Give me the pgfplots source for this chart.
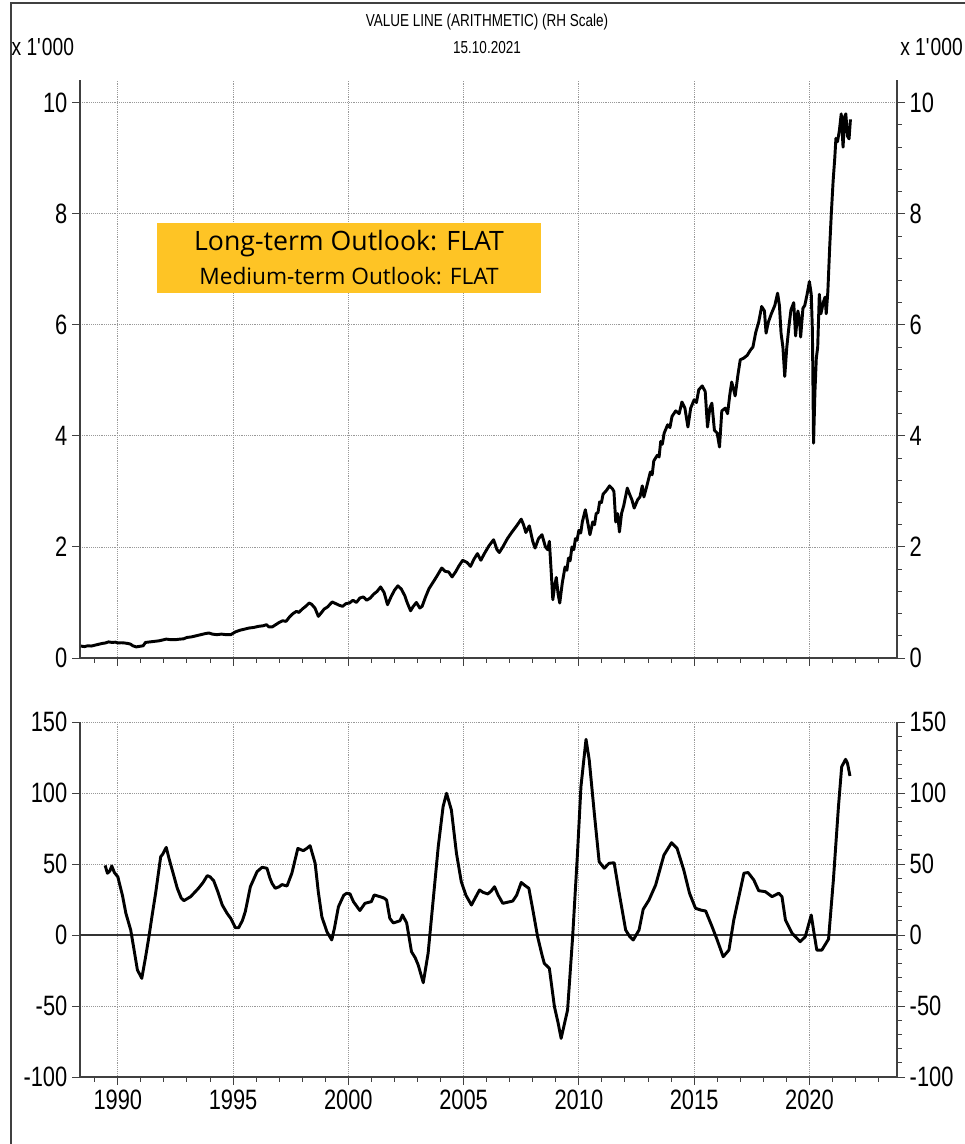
\documentclass[border=0pt]{standalone}
\usepackage{fontspec}
\setmainfont{Liberation Sans}[FakeStretch=0.78]
\newfontfamily\boxfont{Open Sans}
\usepackage{pgfplots}
\pgfplotsset{compat=1.18}
\definecolor{boxyellow}{HTML}{FEC425}
\newcommand\tickfont{\fontsize{21}{21}\selectfont}
\pgfplotsset{
  common/.style={
    anchor=south west, width=612.75pt, scale only axis,
    xmin=1988.36, xmax=2023.8,
    /pgf/number format/assume math mode=true,
    /pgf/number format/1000 sep={},
    tick align=outside,
    major tick length=6pt, minor tick length=3.5pt,
    every tick/.style={draw=black!75, line width=0.7pt},
    axis line style={draw=black!75, line width=0.8pt},
    ticklabel style={font=\tickfont},
  },
  leftax/.style={common,
    axis x line*=bottom, axis y line*=left,
    xtick={1990,1995,...,2020}, minor xtick={1989,...,2023},
    grid=major,
    major grid style={densely dotted, black!40, line width=0.6pt},
  },
  rightax/.style={common,
    axis x line=none, axis y line*=right,
    minor y tick num=4,
  },
}
\begin{document}
\begin{tikzpicture}
\useasboundingbox (0,0) rectangle (723pt,858pt);
% outer frame
\draw[black!75, line width=1.9pt] (8.25pt,0) -- (8.25pt,855.75pt) -- (730pt,855.75pt);
% titles
\node[font=\fontsize{13}{13}\selectfont] at (365.25pt,841.5pt) {VALUE LINE (ARITHMETIC) (RH Scale)};
\node[font=\fontsize{13}{13}\selectfont] at (365.25pt,822pt) {15.10.2021};
\node[font=\fontsize{18.5}{18.5}\selectfont, anchor=west, inner sep=0pt] at (8.5pt,822.75pt) {x 1\textquotesingle 000};
\node[font=\fontsize{18.5}{18.5}\selectfont, anchor=west, inner sep=0pt] at (675pt,822.75pt) {x 1\textquotesingle 000};

% ---------------- top panel ----------------
\begin{axis}[leftax, at={(60pt,364.5pt)}, height=433.5pt,
  ymin=0, ymax=10.41, ytick={0,2,...,10}, xticklabels={}]
\addplot[black, line width=2.2pt, line join=round] coordinates {
(1988.40,0.215)(1988.55,0.205)(1988.70,0.22)(1988.85,0.215)(1989.00,0.23)(1989.15,0.245)
(1989.30,0.26)(1989.45,0.27)(1989.60,0.29)(1989.75,0.28)(1989.90,0.285)(1990.00,0.27)
(1990.15,0.275)(1990.30,0.27)(1990.45,0.26)(1990.55,0.25)(1990.65,0.22)(1990.80,0.20)
(1990.95,0.21)(1991.10,0.22)(1991.20,0.28)(1991.40,0.29)(1991.60,0.30)(1991.80,0.31)
(1992.00,0.33)(1992.10,0.34)(1992.30,0.33)(1992.50,0.33)(1992.70,0.34)(1992.85,0.345)
(1993.00,0.37)(1993.20,0.38)(1993.40,0.40)(1993.60,0.42)(1993.80,0.44)(1993.95,0.45)
(1994.10,0.43)(1994.30,0.42)(1994.50,0.43)(1994.70,0.42)(1994.90,0.42)(1995.10,0.47)
(1995.30,0.50)(1995.50,0.52)(1995.70,0.54)(1995.90,0.55)(1996.10,0.57)(1996.30,0.58)
(1996.45,0.60)(1996.55,0.56)(1996.70,0.56)(1996.85,0.60)(1997.00,0.64)(1997.15,0.67)
(1997.30,0.66)(1997.45,0.74)(1997.60,0.80)(1997.75,0.84)(1997.85,0.82)(1998.00,0.88)
(1998.15,0.93)(1998.30,0.99)(1998.40,0.97)(1998.55,0.90)(1998.70,0.75)(1998.80,0.80)
(1998.95,0.88)(1999.10,0.92)(1999.30,1.01)(1999.45,0.98)(1999.60,0.95)(1999.75,0.93)
(1999.90,0.98)(2000.05,0.99)(2000.20,1.04)(2000.35,1.00)(2000.50,1.08)(2000.65,1.10)
(2000.80,1.04)(2000.95,1.08)(2001.10,1.15)(2001.25,1.20)(2001.40,1.28)(2001.55,1.18)
(2001.70,0.96)(2001.85,1.10)(2002.00,1.22)(2002.15,1.30)(2002.30,1.24)(2002.45,1.12)
(2002.55,1.00)(2002.70,0.85)(2002.80,0.92)(2002.95,1.00)(2003.10,0.90)(2003.20,0.93)
(2003.35,1.10)(2003.50,1.25)(2003.70,1.38)(2003.85,1.48)(2004.05,1.62)(2004.20,1.56)
(2004.35,1.55)(2004.50,1.46)(2004.65,1.55)(2004.80,1.66)(2004.96,1.76)(2005.15,1.72)
(2005.30,1.65)(2005.45,1.78)(2005.60,1.88)(2005.75,1.76)(2005.90,1.88)(2006.10,2.02)
(2006.30,2.13)(2006.45,1.95)(2006.55,1.90)(2006.70,2.00)(2006.90,2.15)(2007.10,2.27)
(2007.30,2.38)(2007.50,2.50)(2007.60,2.40)(2007.70,2.26)(2007.85,2.38)(2008.00,2.10)
(2008.10,1.98)(2008.25,2.15)(2008.40,2.22)(2008.55,2.00)(2008.65,1.95)(2008.72,2.10)
(2008.80,1.55)(2008.87,1.05)(2008.95,1.30)(2009.02,1.45)(2009.10,1.15)(2009.17,0.99)
(2009.28,1.35)(2009.40,1.64)(2009.48,1.58)(2009.55,1.80)(2009.62,1.75)(2009.70,2.00)
(2009.78,1.95)(2009.85,2.15)(2009.92,2.12)(2010.00,2.30)(2010.08,2.25)(2010.15,2.45)
(2010.28,2.67)(2010.38,2.45)(2010.48,2.22)(2010.55,2.35)(2010.60,2.45)(2010.68,2.40)
(2010.75,2.60)(2010.83,2.62)(2010.90,2.81)(2010.98,2.80)(2011.05,2.95)(2011.20,3.02)
(2011.33,3.10)(2011.45,3.05)(2011.52,3.00)(2011.60,2.45)(2011.68,2.60)(2011.76,2.27)
(2011.85,2.60)(2011.95,2.75)(2012.10,3.06)(2012.20,2.95)(2012.30,2.85)(2012.40,2.70)
(2012.55,2.85)(2012.65,2.90)(2012.75,3.10)(2012.82,2.90)(2012.95,3.10)(2013.10,3.35)
(2013.18,3.30)(2013.25,3.55)(2013.40,3.65)(2013.48,3.62)(2013.55,3.90)(2013.62,3.85)
(2013.70,4.05)(2013.85,4.20)(2013.95,4.15)(2014.04,4.35)(2014.20,4.45)(2014.35,4.40)
(2014.47,4.61)(2014.60,4.50)(2014.73,4.16)(2014.85,4.50)(2015.00,4.65)(2015.10,4.60)
(2015.20,4.83)(2015.35,4.90)(2015.48,4.80)(2015.58,4.16)(2015.68,4.50)(2015.77,4.59)
(2015.88,4.10)(2016.00,4.05)(2016.10,3.80)(2016.20,4.45)(2016.35,4.50)(2016.45,4.40)
(2016.55,4.75)(2016.63,4.97)(2016.78,4.72)(2016.90,5.10)(2017.00,5.37)(2017.15,5.40)
(2017.30,5.45)(2017.45,5.55)(2017.55,5.60)(2017.67,5.86)(2017.80,6.05)(2017.93,6.33)
(2018.05,6.25)(2018.12,5.85)(2018.22,6.05)(2018.35,6.20)(2018.50,6.35)(2018.62,6.57)
(2018.70,6.35)(2018.77,5.85)(2018.85,5.60)(2018.93,5.07)(2019.02,5.60)(2019.12,6.00)
(2019.20,6.27)(2019.32,6.40)(2019.40,5.80)(2019.50,6.25)(2019.57,6.10)(2019.62,5.78)
(2019.72,6.30)(2019.80,6.35)(2019.90,6.55)(2020.00,6.78)(2020.08,6.55)(2020.13,5.90)
(2020.18,3.87)(2020.24,4.80)(2020.30,5.40)(2020.36,5.60)(2020.43,6.55)(2020.50,6.20)
(2020.60,6.40)(2020.68,6.50)(2020.73,6.20)(2020.80,6.60)(2020.88,7.40)(2020.95,8.00)
(2021.03,8.60)(2021.10,9.00)(2021.15,9.36)(2021.22,9.30)(2021.30,9.50)(2021.38,9.80)
(2021.46,9.20)(2021.53,9.75)(2021.58,9.80)(2021.65,9.40)(2021.72,9.35)(2021.78,9.70)
};
\end{axis}
\begin{axis}[rightax, at={(60pt,364.5pt)}, height=433.5pt,
  ymin=0, ymax=10.41, ytick={0,2,...,10}]
\end{axis}

% ---------------- bottom panel ----------------
\begin{axis}[leftax, at={(60pt,50.25pt)}, height=266.25pt,
  ymin=-100, ymax=150, ytick={-100,-50,...,150}]
\draw[black!80, line width=0.8pt] (axis cs:1988.36,0) -- (axis cs:2023.8,0);
\addplot[black, line width=2.2pt, line join=round] coordinates {
(1989.45,49)(1989.55,43.5)(1989.65,45)(1989.74,48.6)(1989.85,44)(1990.00,41)
(1990.20,28)(1990.35,15.3)(1990.56,3.5)(1990.70,-10)(1990.85,-24.6)(1991.04,-30.5)
(1991.20,-16)(1991.35,-1.2)(1991.50,15)(1991.64,29.4)(1991.86,55.1)(1991.95,57)
(1992.10,61.7)(1992.22,54)(1992.36,45.8)(1992.58,32.9)(1992.75,26)(1992.87,24.2)
(1993.16,27)(1993.50,32.9)(1993.70,37)(1993.88,41.8)(1994.00,41)(1994.16,38.2)
(1994.35,30)(1994.53,21.1)(1994.75,15)(1994.90,11.7)(1995.10,5.1)(1995.24,5.1)
(1995.40,10)(1995.53,16.4)(1995.75,34)(1996.04,44.6)(1996.26,47.7)(1996.47,47)
(1996.60,40)(1996.69,36.4)(1996.83,32.9)(1997.00,34)(1997.12,35.5)(1997.34,34.5)
(1997.55,43.5)(1997.81,61)(1997.95,60)(1998.05,59.4)(1998.20,61)(1998.34,62.9)
(1998.56,50.5)(1998.70,30)(1998.85,12.9)(1999.07,2.3)(1999.28,-3.5)(1999.40,5)
(1999.57,19.9)(1999.80,28)(1999.93,29.4)(2000.07,29)(2000.22,23.5)(2000.50,17.2)
(2000.72,22.3)(2001.00,23.5)(2001.12,28.2)(2001.37,27)(2001.55,26)(2001.66,24.6)
(2001.80,11.7)(2001.95,8.5)(2002.24,10)(2002.35,14.1)(2002.53,8.5)(2002.74,-11.8)
(2002.90,-16)(2003.03,-21.1)(2003.25,-33.6)(2003.46,-12.9)(2003.68,24.6)(2003.90,62.2)
(2004.11,90.4)(2004.26,99.8)(2004.47,88)(2004.69,57.5)(2004.90,37.5)(2005.10,28)
(2005.34,21.1)(2005.50,26)(2005.69,31.7)(2005.85,30)(2006.05,28.9)(2006.20,31)
(2006.34,34)(2006.50,28)(2006.70,22.3)(2007.13,23.9)(2007.30,28)(2007.50,37)
(2007.65,35)(2007.83,32.9)(2008.00,18)(2008.21,-1.2)(2008.40,-14)(2008.50,-20)
(2008.72,-23.5)(2008.94,-50.5)(2009.10,-62)(2009.23,-72.8)(2009.51,-52.8)(2009.73,-1.2)
(2009.94,57.5)(2010.09,104.5)(2010.31,137.8)(2010.45,123.2)(2010.67,85.7)(2010.88,51.6)
(2011.10,47)(2011.31,50.5)(2011.53,50.9)(2011.75,29.4)(2012.03,3.5)(2012.20,-1)
(2012.36,-3.5)(2012.61,3.5)(2012.79,18.1)(2013.04,24.6)(2013.33,35.2)(2013.69,56.3)
(2014.02,65)(2014.26,61)(2014.55,45.8)(2014.80,29.4)(2015.06,18.8)(2015.30,17.5)
(2015.50,16.9)(2015.78,5.8)(2016.00,-3.5)(2016.26,-15.3)(2016.51,-10.6)(2016.72,10.6)
(2016.94,27)(2017.16,43.5)(2017.34,44)(2017.59,38.7)(2017.80,31.2)(2018.09,30.5)
(2018.38,27)(2018.67,29.4)(2018.81,27)(2018.96,10.6)(2019.25,1.2)(2019.60,-4.7)
(2019.82,-1.2)(2020.08,14.1)(2020.18,3.5)(2020.32,-10.6)(2020.54,-10.6)(2020.83,-2.9)
(2021.04,38.7)(2021.26,90.4)(2021.40,118.5)(2021.57,123.7)(2021.65,121)(2021.76,112)
};
\end{axis}
\begin{axis}[rightax, at={(60pt,50.25pt)}, height=266.25pt,
  ymin=-100, ymax=150, ytick={-100,-50,...,150}]
\end{axis}

% outlook box
\fill[boxyellow] (117.75pt,638.25pt) rectangle (405.75pt,690.75pt);
\node[font=\boxfont\fontsize{20}{20}\selectfont, inner sep=0pt] at (261.75pt,675pt) {Long-term Outlook: FLAT};
\node[font=\boxfont\fontsize{17}{17}\selectfont, inner sep=0pt] at (261.75pt,651pt) {Medium-term Outlook: FLAT};
\end{tikzpicture}
\end{document}
